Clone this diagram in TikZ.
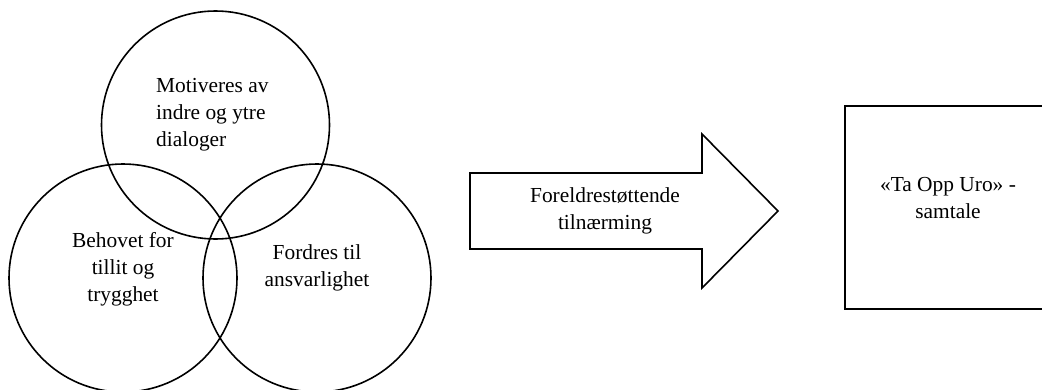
\documentclass[tikz,border=0pt]{standalone}
\usepackage{fontspec}
\setmainfont{Liberation Serif}
\usepackage{tikz}
\usetikzlibrary{positioning}

\begin{document}
\begin{tikzpicture}[x=1pt, y=-1pt,
    frame/.style={draw=black, line width=1.6pt},
    ring/.style={frame, circle, minimum size=228pt, inner sep=0pt},
    box/.style={frame, rectangle, minimum width=206pt, minimum height=203pt, inner sep=0pt},
    lbl/.style={font=\fontsize{21.4}{27}\selectfont, inner sep=0pt}]
    % Canvas
    \useasboundingbox (0,0) rectangle (1042,389);
    \clip (0,0) rectangle (1042,389);

    % Three circles
    \node[ring] (motiv) at (215.5,125) {};
    \node[ring] (behov) at (123,278) {};
    \node[ring] (fordr) at (317,278) {};
    \node[lbl, align=left, anchor=west] (motivtxt) at (156,115) {Motiveres av\\indre og ytre\\dialoger};
    \node[lbl, align=center] (behovtxt) at (123,269) {Behovet for\\tillit og\\trygghet};
    \node[lbl, align=center] (fordrtxt) at (317,268) {Fordres til\\ansvarlighet};

    % Block arrow
    \draw[frame, line join=miter] (470,173) -- (702,173) -- (702,134) -- (778,211)
        -- (702,288) -- (702,249) -- (470,249) -- cycle;
    \node[lbl, align=center] (tilnaer) at (605,211) {Foreldrestøttende\\tilnærming};

    % Box
    \node[box] (uro) at (948,207.5) {};
    \node[lbl, align=center] (urotxt) at (948,198) {«Ta Opp Uro» -\\samtale};
\end{tikzpicture}
\end{document}
